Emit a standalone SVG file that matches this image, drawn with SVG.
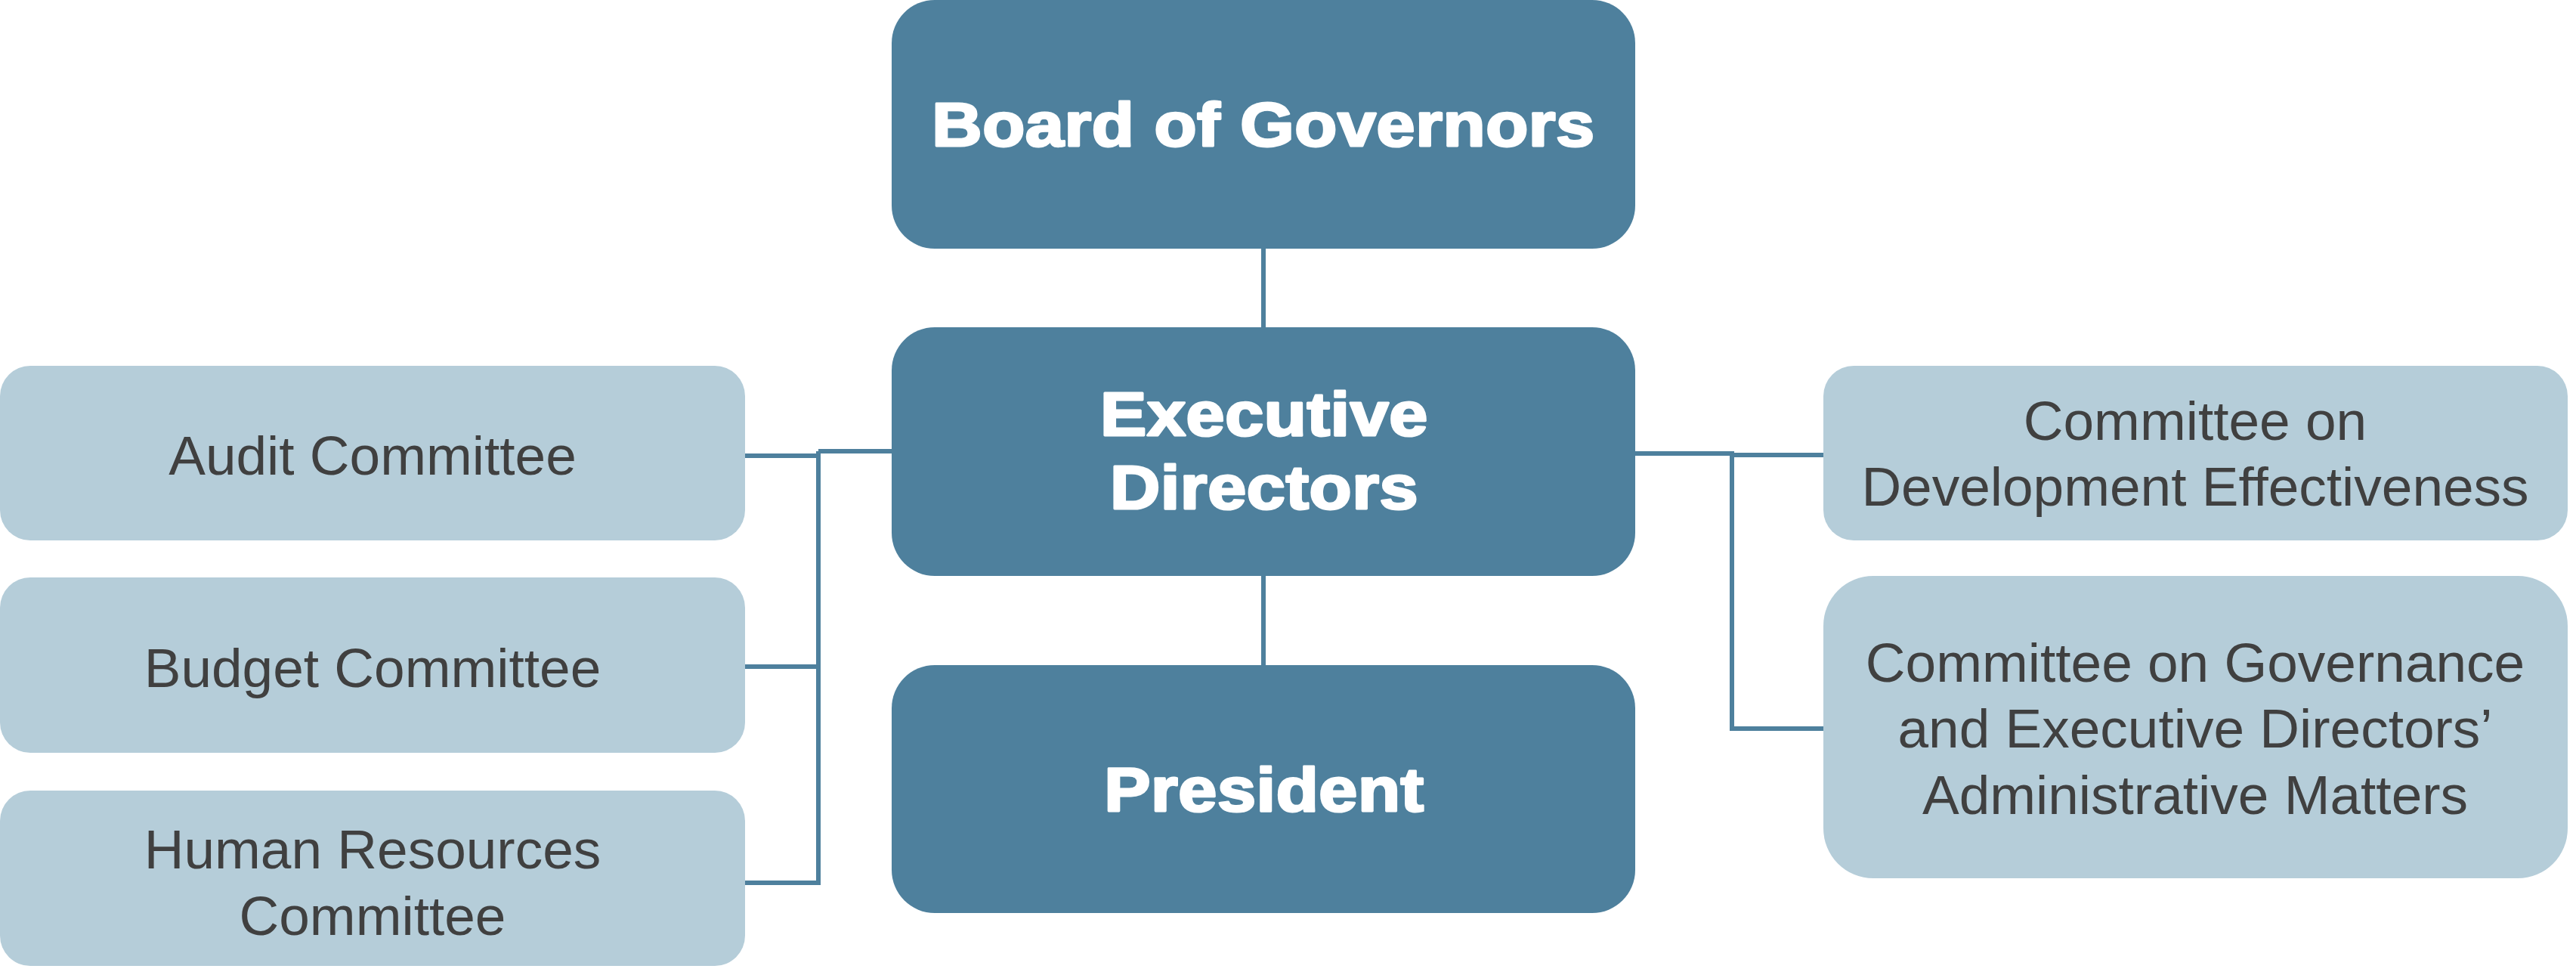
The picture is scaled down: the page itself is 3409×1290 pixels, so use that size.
<svg xmlns="http://www.w3.org/2000/svg" width="3409" height="1290" viewBox="0 0 3409 1290">
<style>
.dark{fill:#4E809D}
.light{fill:#B5CDD9}
.tb{font-family:"Liberation Sans",Arial,sans-serif;font-weight:bold;font-size:82px;letter-spacing:0.5px;fill:#FFFFFF;stroke:#FFFFFF;stroke-width:3;stroke-linejoin:round;text-anchor:middle}
.tl{font-family:"Liberation Sans",Arial,sans-serif;font-size:73px;fill:#404040;text-anchor:middle}
.con{fill:none;stroke:#4E809D;stroke-width:6}
</style>
<rect width="3409" height="1290" fill="#FFFFFF"/>
<g id="connectors">
<path class="con" d="M1672,328 V435"/>
<path class="con" d="M1672,760 V882"/>
<path class="con" d="M1182,597 H1083 M1083,597 V1171 M986,603 H1086 M986,882 H1086 M986,1168 H1086"/>
<path class="con" d="M2162,600 H2295 M2292,602 H2415 M2292,600 V967 M2289,964 H2415"/>
</g>
<g id="board">
<rect class="dark" x="1180" y="0" width="984" height="329" rx="57" ry="57"/>
<text class="tb" transform="translate(1672,193) scale(1.12,1)" x="0" y="0">Board of Governors</text>
</g>
<g id="executive">
<rect class="dark" x="1180" y="433" width="984" height="329" rx="57" ry="57"/>
<text class="tb" transform="translate(1673,576) scale(1.12,1)" x="0" y="0">Executive</text>
<text class="tb" transform="translate(1673,673) scale(1.12,1)" x="0" y="0">Directors</text>
</g>
<g id="president">
<rect class="dark" x="1180" y="880" width="984" height="328" rx="57" ry="57"/>
<text class="tb" transform="translate(1673,1073) scale(1.12,1)" x="0" y="0">President</text>
</g>
<g id="audit">
<rect class="light" x="0" y="484" width="986" height="231" rx="40" ry="40"/>
<text class="tl" x="493" y="628">Audit Committee</text>
</g>
<g id="budget">
<rect class="light" x="0" y="764" width="986" height="232" rx="40" ry="40"/>
<text class="tl" x="493" y="909">Budget Committee</text>
</g>
<g id="hr">
<rect class="light" x="0" y="1046" width="986" height="232" rx="40" ry="40"/>
<text class="tl" x="493" y="1149">Human Resources</text>
<text class="tl" x="493" y="1237">Committee</text>
</g>
<g id="cde">
<rect class="light" x="2413" y="484" width="985" height="231" rx="40" ry="40"/>
<text class="tl" x="2905" y="582">Committee on</text>
<text class="tl" x="2905" y="669">Development Effectiveness</text>
</g>
<g id="cgedam">
<rect class="light" x="2413" y="762" width="985" height="400" rx="66" ry="66"/>
<text class="tl" x="2905" y="902">Committee on Governance</text>
<text class="tl" x="2905" y="989">and Executive Directors’</text>
<text class="tl" x="2905" y="1077">Administrative Matters</text>
</g>
</svg>
